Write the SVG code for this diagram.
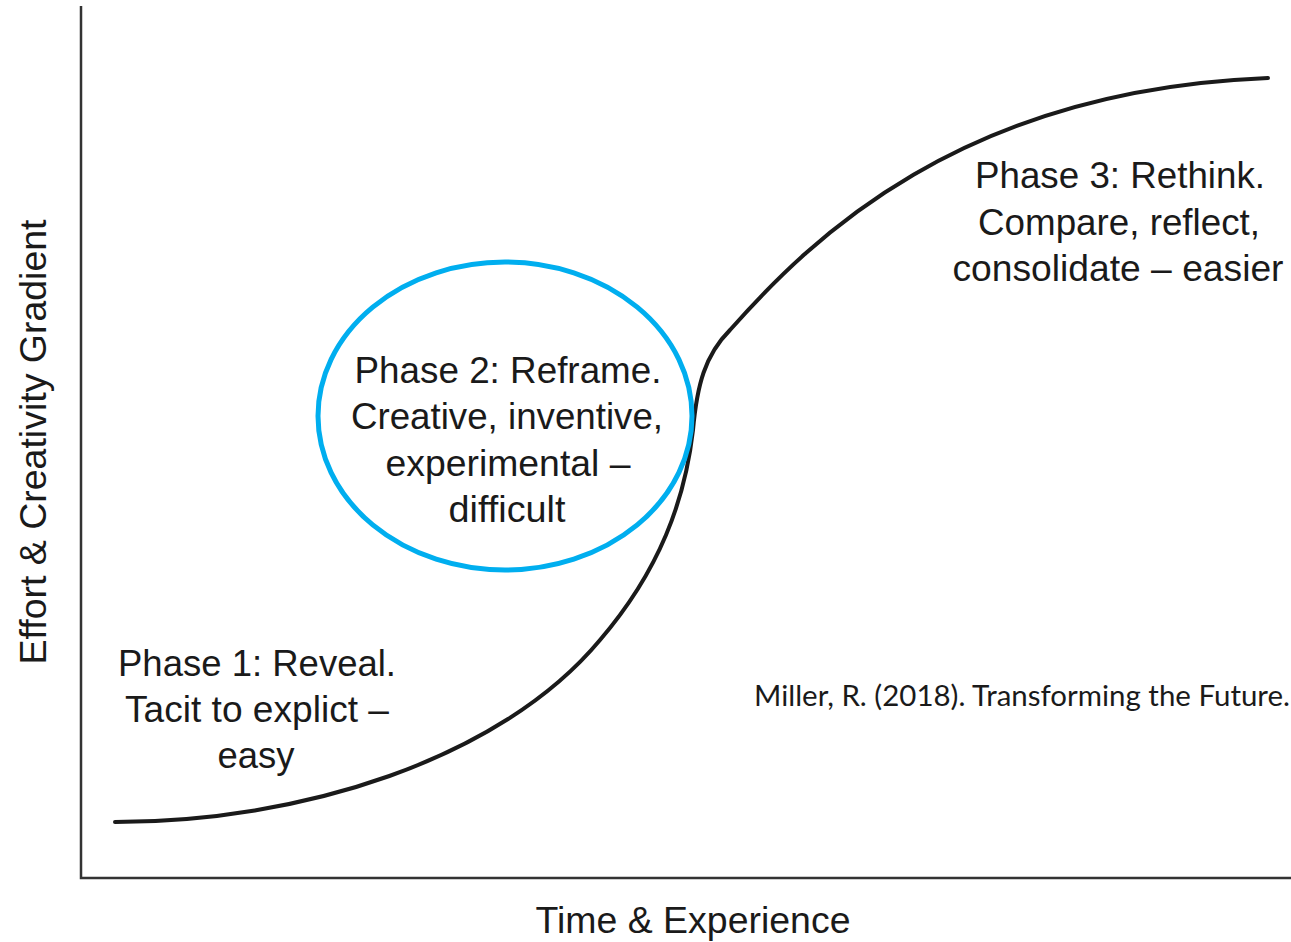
<svg xmlns="http://www.w3.org/2000/svg" width="1291" height="942" viewBox="0 0 1291 942">
<style>
.lbl{font-family:"Liberation Sans",Arial,sans-serif;font-size:36px;fill:#1a1a1a;text-anchor:middle}
.cite{font-family:Lato,"Noto Sans",sans-serif;font-size:29px;fill:#1a1a1a}
.axis{stroke:#333;stroke-width:2.5;fill:none}
</style>
<rect width="1291" height="942" fill="#fff"/>
<g id="axes">
<path class="axis" d="M81,6 V878 H1291"/>
</g>
<g id="connectors">
<path d="M115,822 C 300,822 500,760 600,640 C 660,570 685,500 693,430 C 697,385 705,355 730,330 C 810,240 960,90 1268,78" fill="none" stroke="#1a1a1a" stroke-width="4" stroke-linecap="round"/>
</g>
<g id="phase2">
<ellipse cx="505" cy="416" rx="187" ry="154" fill="none" stroke="#00aeef" stroke-width="5"/>
<text class="lbl" x="508" y="383" textLength="307" lengthAdjust="spacingAndGlyphs">Phase 2: Reframe.</text>
<text class="lbl" x="507" y="429" textLength="312" lengthAdjust="spacingAndGlyphs">Creative, inventive,</text>
<text class="lbl" x="508" y="476" textLength="245" lengthAdjust="spacingAndGlyphs">experimental –</text>
<text class="lbl" x="507" y="522" textLength="117" lengthAdjust="spacingAndGlyphs">difficult</text>
</g>
<g id="phase1">
<text class="lbl" x="257" y="676" textLength="278" lengthAdjust="spacingAndGlyphs">Phase 1: Reveal.</text>
<text class="lbl" x="257" y="722" textLength="264" lengthAdjust="spacingAndGlyphs">Tacit to explict –</text>
<text class="lbl" x="256" y="768" textLength="77" lengthAdjust="spacingAndGlyphs">easy</text>
</g>
<g id="phase3">
<text class="lbl" x="1120" y="188" textLength="290" lengthAdjust="spacingAndGlyphs">Phase 3: Rethink.</text>
<text class="lbl" x="1119" y="235" textLength="282" lengthAdjust="spacingAndGlyphs">Compare, reflect,</text>
<text class="lbl" x="1118" y="281" textLength="331" lengthAdjust="spacingAndGlyphs">consolidate – easier</text>
</g>
<g id="xlabel"><text class="lbl" x="693" y="933" textLength="315" lengthAdjust="spacingAndGlyphs">Time &amp; Experience</text></g>
<g id="ylabel"><text class="lbl" transform="translate(46,442) rotate(-90)" x="0" y="0" textLength="445" lengthAdjust="spacingAndGlyphs">Effort &amp; Creativity Gradient</text></g>
<g id="citation"><text class="cite" x="754" y="706" textLength="536" lengthAdjust="spacingAndGlyphs">Miller, R. (2018). Transforming the Future.</text></g>
</svg>
